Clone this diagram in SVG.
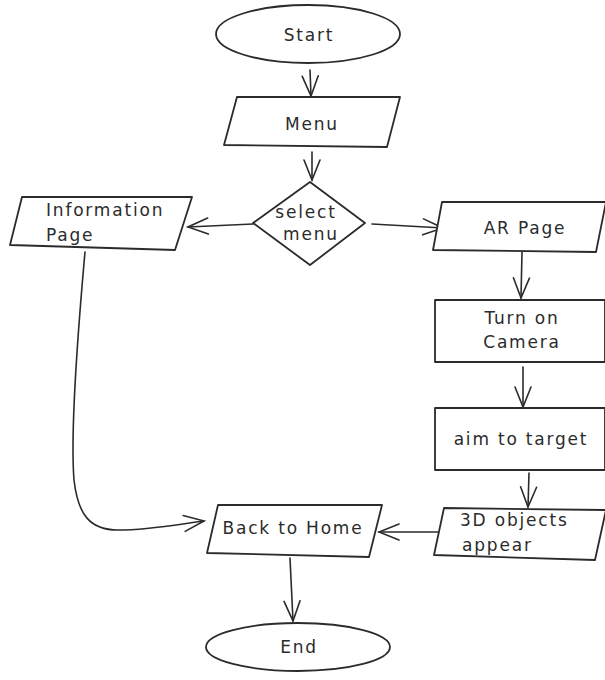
<svg xmlns="http://www.w3.org/2000/svg" width="605" height="680" viewBox="0 0 605 680">
<style>
.s{fill:#fff;stroke:#2b2b2b;stroke-width:1.8;stroke-linejoin:round}
.c{fill:none;stroke:#2b2b2b;stroke-width:1.6;stroke-linecap:round}
.t{font-family:"DejaVu Sans","Liberation Sans",sans-serif;font-size:17px;fill:#2b2b2b;letter-spacing:1.8px}
.m{text-anchor:middle}
</style>
<defs>
<marker id="ah" viewBox="-22 -12 24 24" markerWidth="24" markerHeight="24" refX="0" refY="0" orient="auto" markerUnits="userSpaceOnUse">
<path d="M-20,-8 L0,0 L-20,8" fill="none" stroke="#2b2b2b" stroke-width="1.6" stroke-linecap="round"/>
</marker>
</defs>
<rect width="605" height="680" fill="#fff"/>
<g id="connectors">
<path class="c" d="M310,70 L311,96" marker-end="url(#ah)"/>
<path class="c" d="M312,152 L312,180" marker-end="url(#ah)"/>
<path class="c" d="M253,224 L188,227" marker-end="url(#ah)"/>
<path class="c" d="M372,224 L443,228" marker-end="url(#ah)"/>
<path class="c" d="M522,252 L521,298" marker-end="url(#ah)"/>
<path class="c" d="M523,367 L523,407" marker-end="url(#ah)"/>
<path class="c" d="M529,473 L528,507" marker-end="url(#ah)"/>
<path class="c" d="M438,532 L379,532" marker-end="url(#ah)"/>
<path class="c" d="M85,252 C78,330 70,430 74,480 C78,515 90,530 118,530 C150,530 180,524 204,521" marker-end="url(#ah)"/>
<path class="c" d="M290,558 L293,621" marker-end="url(#ah)"/>
</g>
<g id="start">
<ellipse class="s" cx="308" cy="34" rx="92" ry="29"/>
<text class="t m" x="309" y="41">Start</text>
</g>
<g id="menu">
<path class="s" d="M237,97 L400,97 L387,147 L224,145 Z"/>
<text class="t m" x="312" y="130">Menu</text>
</g>
<g id="select-menu">
<path class="s" d="M310,182 L365,223 L310,265 L253,223 Z"/>
<text class="t m" x="306" y="218">select</text>
<text class="t m" x="311" y="240">menu</text>
</g>
<g id="information-page">
<path class="s" d="M22,197 L192,197 L175,250 L10,245 Z"/>
<text class="t" x="46" y="216">Information</text>
<text class="t" x="46" y="241">Page</text>
</g>
<g id="ar-page">
<path class="s" d="M442,202 L606,202 L596,252 L433,250 Z"/>
<text class="t m" x="525" y="234">AR Page</text>
</g>
<g id="turn-on-camera">
<rect class="s" x="435" y="300" width="170" height="62"/>
<text class="t m" x="522" y="324">Turn on</text>
<text class="t m" x="522" y="348">Camera</text>
</g>
<g id="aim-to-target">
<rect class="s" x="435" y="408" width="170" height="62"/>
<text class="t m" x="521" y="445">aim to target</text>
</g>
<g id="objects-appear">
<path class="s" d="M444,508 L606,510 L595,560 L434,555 Z"/>
<text class="t" x="460" y="526">3D objects</text>
<text class="t" x="462" y="551">appear</text>
</g>
<g id="back-to-home">
<path class="s" d="M218,505 L382,505 L369,557 L207,553 Z"/>
<text class="t m" x="293" y="534">Back to Home</text>
</g>
<g id="end">
<ellipse class="s" cx="298" cy="647" rx="92" ry="24"/>
<text class="t m" x="299" y="653">End</text>
</g>
</svg>
